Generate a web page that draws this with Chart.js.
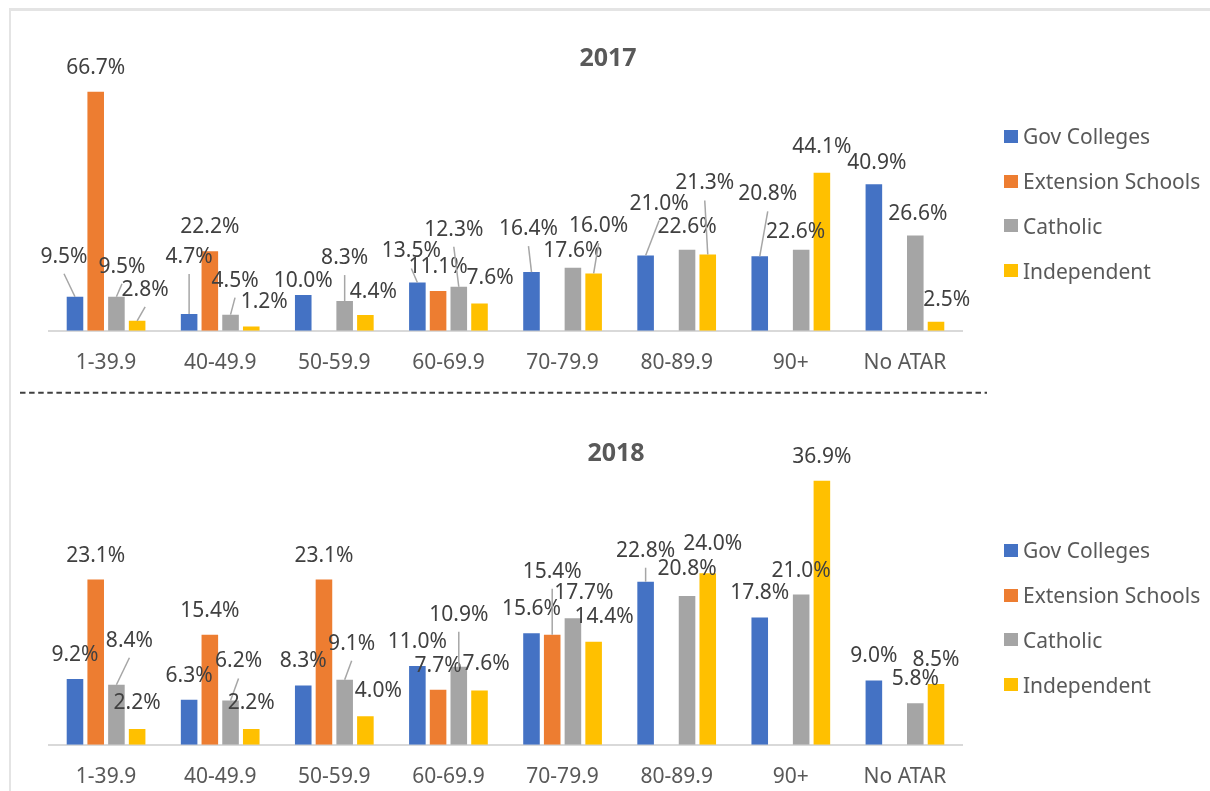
<!DOCTYPE html>
<html>
<head>
<meta charset="utf-8">
<script src="https://cdn.jsdelivr.net/npm/chart.js@4.4.0/dist/chart.umd.min.js"></script>
<style>
    html, body { margin: 0; padding: 0; background: #fff; overflow: hidden; width: 1210px; height: 791px; }
    .frame { position: absolute; left: 9px; top: 8px; width: 1300px; height: 900px; border-left: 2px solid #e4e4e4; border-top: 3px solid #e4e4e4; }
    .chart-box { position: absolute; left: 9px; }
    #box2017 { top: 0; width: 1198px; height: 396px; }
    #box2018 { top: 395px; width: 1214px; height: 415px; }
    .legend { position: absolute; left: 1004px; font-family: 'Noto Sans', sans-serif; font-size: 21px; color: #595959; }
    .legend-item { height: 44.8px; display: flex; align-items: center; white-space: nowrap; }
    .legend-color-box { width: 14px; height: 13px; margin-right: 5px; }
    #legend2017 { top: 114px; }
    #legend2018 { top: 528px; }
    .divider { position: absolute; left: 0; top: 388px; }
</style>
</head>
<body>
<div class="frame"></div>
<div class="chart-box" id="box2017"><canvas id="chart2017"></canvas></div>
<div class="chart-box" id="box2018"><canvas id="chart2018"></canvas></div>
<div class="legend" id="legend2017"></div>
<div class="legend" id="legend2018"></div>
<svg class="divider" width="1000" height="10">
    <line x1="20" y1="4.7" x2="987" y2="4.7" stroke="#404040" stroke-width="2" stroke-dasharray="5.5 3.6"/>
</svg>
<script>
const categories = ['1-39.9', '40-49.9', '50-59.9', '60-69.9', '70-79.9', '80-89.9', '90+', 'No ATAR'];
const seriesNames = ['Gov Colleges', 'Extension Schools', 'Catholic', 'Independent'];
const seriesColors = ['#4472C4', '#ED7D31', '#A5A5A5', '#FFC000'];

const gov2017 = [9.5, 4.7, 10.0, 13.5, 16.4, 21.0, 20.8, 40.9];
const ext2017 = [66.7, 22.2, null, 11.1, null, null, null, null];
const cath2017 = [9.5, 4.5, 8.3, 12.3, 17.6, 22.6, 22.6, 26.6];
const ind2017 = [2.8, 1.2, 4.4, 7.6, 16.0, 21.3, 44.1, 2.5];

const gov2018 = [9.2, 6.3, 8.3, 11.0, 15.6, 22.8, 17.8, 9.0];
const ext2018 = [23.1, 15.4, 23.1, 7.7, 15.4, null, null, null];
const cath2018 = [8.4, 6.2, 9.1, 10.9, 17.7, 20.8, 21.0, 5.8];
const ind2018 = [2.2, 2.2, 4.0, 7.6, 14.4, 24.0, 36.9, 8.5];

// label nudges (px from bar top) where the labels were dragged around, key = series letter + category index
const SERIES_KEYS = ['G', 'E', 'C', 'I'];
const labelNudge2017 = {
    G0: [-11, -40], C0: [5.6, -30], I0: [8, -31],
    G1: [0, -57], C1: [4.5, -34], I1: [13, -24],
    G2: [0, -14], C2: [0, -43], I2: [8, -23],
    G3: [-6, -31], C3: [-5, -57], I3: [10.6, -26],
    G4: [-3, -43], C4: [0, -17], I4: [5, -47],
    G5: [13.5, -52], C5: [0, -23], I5: [-3, -71],
    G6: [8, -62], C6: [-5.5, -18], I6: [0, -26],
    G7: [3, -21], C7: [2.5, -21], I7: [10.7, -22]
};
const labelNudge2018 = {
    C0: [13, -44], I0: [0, -26],
    C1: [8, -39], I1: [0, -26],
    C2: [7, -36], I2: [13, -25],
    C3: [0, -52], I3: [6.6, -26],
    E4: [0, -63], C4: [11, -25], I4: [10.5, -25],
    G5: [0, -31], C5: [0, -27], I5: [5, -29]
};

const barLabels = {
    id: 'barLabels',
    afterDatasetsDraw(chart, args, opts) {
        const { ctx } = chart;
        ctx.save();
        ctx.font = '21px "Noto Sans"';
        ctx.textAlign = 'center';
        ctx.textBaseline = 'middle';
        chart.data.datasets.forEach((ds, di) => {
            chart.getDatasetMeta(di).data.forEach((bar, i) => {
                const v = ds.data[i];
                if (v === null || v === undefined) return;
                const [dx, dy] = opts.nudge[SERIES_KEYS[di] + i] || [0, -24];
                const x = bar.x + dx;
                const y = bar.y + dy;
                if (dy < -29.5) { // leader line for labels pulled away from the bar
                    ctx.strokeStyle = '#a6a6a6';
                    ctx.lineWidth = 1.5;
                    ctx.beginPath();
                    ctx.moveTo(x, y + 17);
                    ctx.lineTo(bar.x, bar.y);
                    ctx.stroke();
                }
                ctx.fillStyle = '#404040';
                ctx.fillText(v.toFixed(1) + '%', x, y);
            });
        });
        ctx.restore();
    }
};

// invisible axes that just reserve room on each side, so the title still centres on the whole chart
const spacerAxis = (position, width, yMax) => ({
    position,
    min: 0,
    max: yMax,
    grid: { display: false, drawTicks: false },
    border: { display: false },
    ticks: { display: false },
    afterFit: (scale) => { scale.width = width; }
});

const makeChart = (canvasId, year, series, yMax, titlePad, rightRoom, nudge) => {
    const ctx = document.getElementById(canvasId).getContext('2d');
    return new Chart(ctx, {
        type: 'bar',
        data: {
            labels: categories,
            datasets: series.map((values, i) => ({
                label: seriesNames[i],
                data: values,
                backgroundColor: seriesColors[i],
                categoryPercentage: 0.726,
                barPercentage: 0.8
            }))
        },
        options: {
            responsive: true,
            maintainAspectRatio: false,
            animation: false,
            devicePixelRatio: 1,
            layout: { padding: 0 },
            plugins: {
                legend: { display: false },
                tooltip: { enabled: false },
                title: {
                    display: true,
                    text: year,
                    color: '#595959',
                    font: { family: 'Noto Sans', size: 25, weight: 'bold', lineHeight: 1.2 },
                    padding: titlePad
                },
                barLabels: { nudge }
            },
            scales: {
                x: {
                    grid: { display: false, drawTicks: false },
                    border: { display: true, color: '#d9d9d9', width: 2 },
                    ticks: { color: '#595959', padding: 20, font: { family: 'Noto Sans', size: 21, lineHeight: 1.2 } }
                },
                y: spacerAxis('left', 40, yMax),
                yRight: spacerAxis('right', rightRoom, yMax)
            }
        },
        plugins: [barLabels]
    });
};

const renderLegend = (chart, containerId) => {
    const container = document.getElementById(containerId);
    container.innerHTML = '';
    chart.data.datasets.forEach(ds => {
        const item = document.createElement('div');
        item.className = 'legend-item';
        item.innerHTML = `<div class="legend-color-box" style="background-color: ${ds.backgroundColor}"></div><span>${ds.label}</span>`;
        container.appendChild(item);
    });
};

const chart2017 = makeChart('chart2017', '2017', [gov2017, ext2017, cath2017, ind2017], 70,
    { top: 44, bottom: 6 }, 245, labelNudge2017);
const chart2018 = makeChart('chart2018', '2018', [gov2018, ext2018, cath2018, ind2018], 38,
    { top: 44, bottom: 4 }, 261, labelNudge2018);

renderLegend(chart2017, 'legend2017');
renderLegend(chart2018, 'legend2018');
</script>
</body>
</html>
